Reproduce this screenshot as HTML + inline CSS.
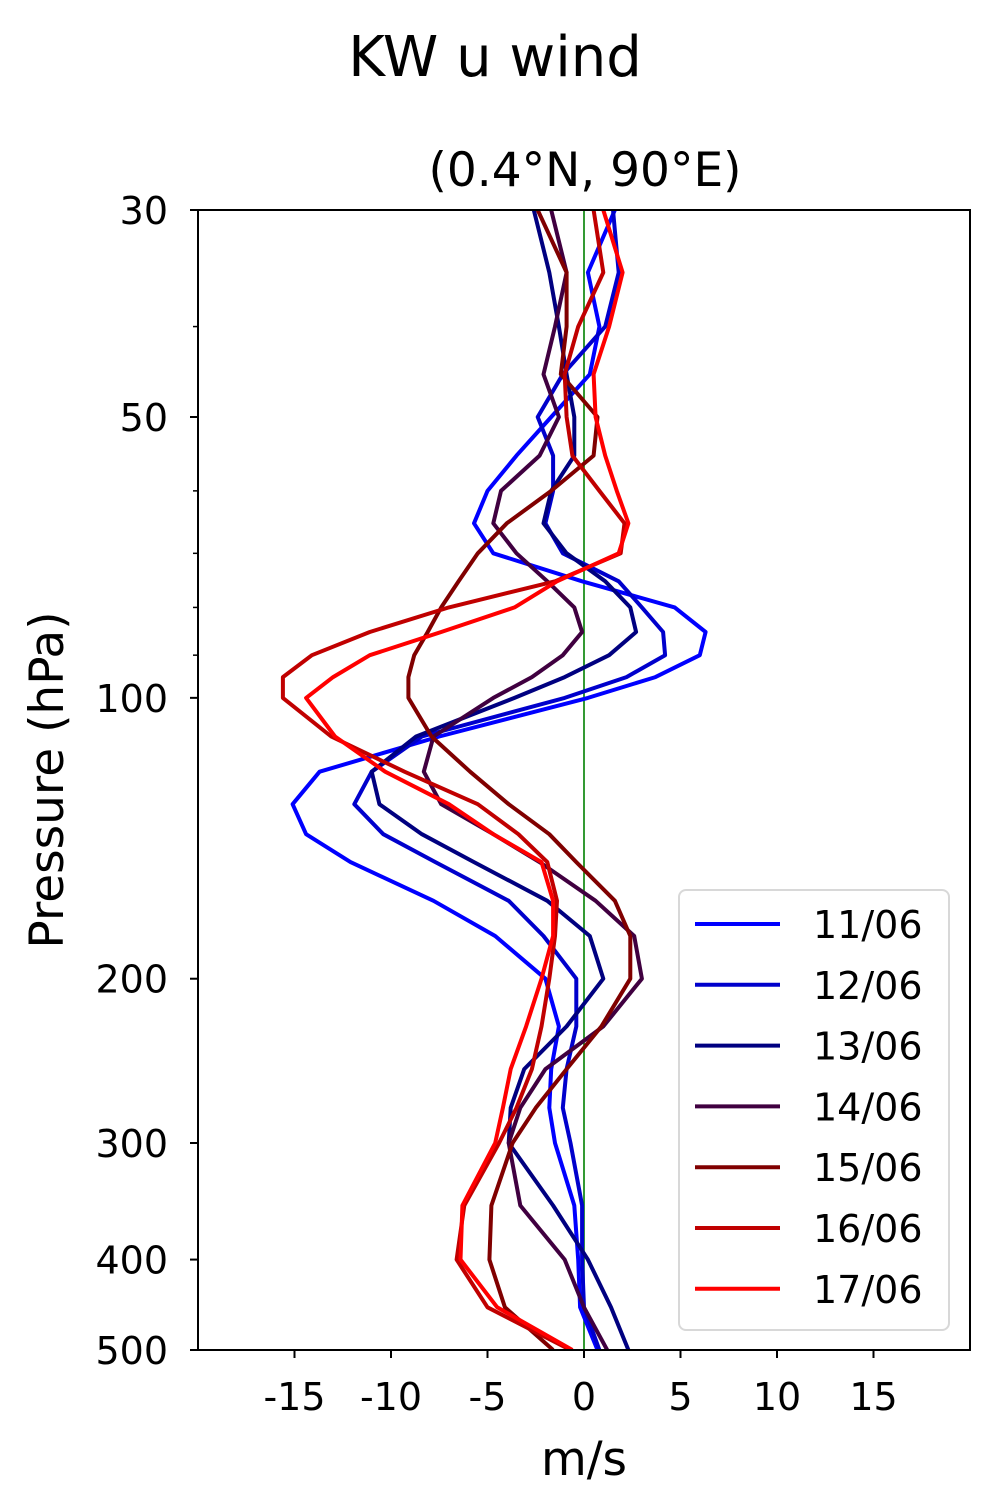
<!DOCTYPE html>
<html><head><meta charset="utf-8">
<style>
html,body{margin:0;padding:0;background:#fff;}
svg{display:block;font-family:"DejaVu Sans","Liberation Sans",sans-serif;}
</style></head>
<body>
<svg id="chart" width="990" height="1500" viewBox="0 0 990 1500" xmlns="http://www.w3.org/2000/svg">
<rect width="990" height="1500" fill="#fff"/>
<text x="495" y="76" font-size="56" text-anchor="middle">KW u wind</text>
<text x="585" y="186" font-size="47" text-anchor="middle">(0.4°N, 90°E)</text>
<g id="series"></g>
<g id="axes"></g>
<text transform="translate(63,780) rotate(-90)" font-size="47" text-anchor="middle">Pressure (hPa)</text>
<text x="584" y="1475" font-size="47" text-anchor="middle">m/s</text>
<g id="legend"></g>
</svg>
<script>
const pressures=[30,35,40,45,50,55,60,65,70,75,80,85,90,95,100,110,120,130,140,150,165,180,200,225,250,275,300,350,400,450,500];
const seriesLabels=["11/06","12/06","13/06","14/06","15/06","16/06","17/06"];
const seriesColors=["#0000ff","#0000cc","#000080","#400040","#800000","#c00000","#ff0000"];
const u1106=[1.6,0.2,0.8,0.3,-1.7,-3.5,-5.0,-5.7,-4.7,-0.1,4.7,6.3,6.0,3.7,0.2,-7.5,-13.7,-15.1,-14.4,-12.1,-7.8,-4.6,-2.0,-1.3,-1.7,-1.8,-1.5,-0.5,-0.3,-0.2,0.7];
const u1206=[1.5,1.8,1.1,-1.1,-2.4,-1.6,-1.6,-2.0,-1.1,1.8,3.0,4.1,4.2,2.2,-1.0,-8.4,-11.0,-11.9,-10.4,-7.7,-3.9,-2.1,-0.4,-0.4,-0.9,-1.1,-0.7,-0.1,-0.1,0,0.8];
const u1306=[-2.6,-1.8,-1.3,-0.9,-0.5,-0.5,-1.7,-2.1,-0.9,1.1,2.4,2.7,1.3,-1.0,-3.6,-8.7,-11.0,-10.6,-8.4,-5.7,-1.9,0.3,1.0,-0.9,-3.1,-3.8,-3.9,-1.6,0.2,1.4,2.3];
const u1406=[-1.7,-0.9,-1.5,-2.1,-1.3,-2.3,-4.3,-4.7,-3.5,-1.9,-0.5,-0.1,-1.1,-2.7,-4.7,-7.8,-8.3,-7.4,-4.7,-2.3,0.6,2.6,3.0,1.0,-2.0,-3.3,-3.9,-3.3,-1.0,0,1.2];
const u1506=[-2.4,-0.9,-0.9,-1.2,0.7,0.5,-1.7,-4.0,-5.5,-6.5,-7.4,-8.1,-8.8,-9.1,-9.1,-7.9,-5.9,-3.9,-1.8,-0.4,1.6,2.4,2.4,0.9,-0.9,-2.5,-3.7,-4.8,-4.9,-4.1,-1.6];
const u1606=[0.5,1.0,-0.3,-1.0,-0.9,-0.6,0.8,2.1,1.9,-1.5,-7.0,-11.1,-14.1,-15.6,-15.6,-13.1,-9.3,-5.5,-3.4,-1.9,-1.4,-1.5,-1.8,-2.2,-2.7,-3.5,-4.4,-6.2,-6.6,-5.0,-0.7];
const u1706=[1.0,2.0,1.3,0.5,0.6,1.1,1.7,2.3,1.8,-1.4,-3.6,-7.4,-11.1,-13.0,-14.4,-12.9,-10.3,-7.0,-4.7,-2.2,-1.6,-1.6,-2.2,-3.0,-3.8,-4.2,-4.6,-6.3,-6.4,-4.5,-0.6];
const allSeries=[u1106,u1206,u1306,u1406,u1506,u1606,u1706];
const xTicks=[-15,-10,-5,0,5,10,15];
const yTicks=[30,50,100,200,300,400,500];
const yMinorTicks=[40,60,70,80,90];

const L=198,R=970,T=210,B=1350,XMIN=-20,XMAX=20,PMIN=30,PMAX=500;
const xs=u=>L+(u-XMIN)/(XMAX-XMIN)*(R-L);
const ys=p=>T+Math.log10(p/PMIN)/Math.log10(PMAX/PMIN)*(B-T);
const NS="http://www.w3.org/2000/svg";
function mk(tag,attrs,parent){const e=document.createElementNS(NS,tag);for(const k in attrs)e.setAttribute(k,attrs[k]);parent.appendChild(e);return e;}

const sg=document.getElementById('series');
const clip=mk('clipPath',{id:'plotclip'},sg);
mk('rect',{x:L,y:T,width:R-L,height:B-T},clip);
const zl=mk('line',{x1:xs(0),x2:xs(0),y1:T,y2:B,stroke:'#008000','stroke-width':1.6},sg);


allSeries.forEach((vals,i)=>{
  const pts=vals.map((u,j)=>xs(u).toFixed(1)+','+ys(pressures[j]).toFixed(1)).join(' ');
  const pl=mk('polyline',{points:pts,fill:'none',stroke:seriesColors[i],'stroke-width':4,'stroke-linejoin':'round','clip-path':'url(#plotclip)'},sg);
  
  
});

const ax=document.getElementById('axes');
const frame=mk('rect',{x:L,y:T,width:R-L,height:B-T,fill:'none',stroke:'#000','stroke-width':2},ax);


xTicks.forEach(t=>{
  const x=xs(t);
  mk('line',{x1:x,x2:x,y1:B,y2:B+8,stroke:'#000','stroke-width':2},ax);
  const tx=mk('text',{x:x,y:B+60,'font-size':38,'text-anchor':'middle'},ax);
  tx.textContent=t;
  
  
});
yTicks.forEach(t=>{
  const y=ys(t);
  mk('line',{x1:L-8,x2:L,y1:y,y2:y,stroke:'#000','stroke-width':2},ax);
  const tx=mk('text',{x:L-30,y:y+14,'font-size':38,'text-anchor':'end'},ax);
  tx.textContent=t;
  
  
});
yMinorTicks.forEach(t=>{
  const y=ys(t);
  const ln=mk('line',{x1:L-5,x2:L,y1:y,y2:y,stroke:'#000','stroke-width':1.5},ax);
  
  
});

const lg=document.getElementById('legend');
mk('rect',{x:679,y:890,width:270,height:440,rx:7,fill:'#fff','fill-opacity':0.8,stroke:'#d8d8d8','stroke-width':2},lg);
seriesLabels.forEach((lab,i)=>{
  const y=924+i*60.8;
  const g=mk('g',{},lg);
  
  
  mk('line',{x1:695,x2:780,y1:y,y2:y,stroke:seriesColors[i],'stroke-width':4},g);
  const tx=mk('text',{x:813,y:y+14,'font-size':38},g);
  tx.textContent=lab;
});
</script>
</body></html>
